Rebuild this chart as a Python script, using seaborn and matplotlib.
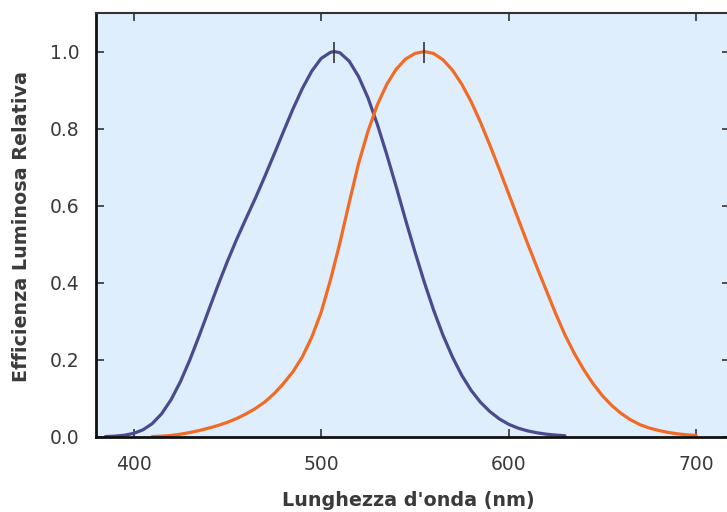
import numpy as np
import pandas as pd
import matplotlib
matplotlib.use("Agg")
import matplotlib.pyplot as plt
import seaborn as sns

# Scotopic (blue) curve
scot_wl = [385, 390, 395, 400, 405, 410, 415, 420, 425, 430, 435, 440, 445, 450, 455,
           460, 465, 470, 475, 480, 485, 490, 495, 500, 505, 507, 510, 515, 520, 525,
           530, 535, 540, 545, 550, 555, 560, 565, 570, 575, 580, 585, 590, 595, 600,
           605, 610, 615, 620, 625, 630]
scot_val = [0.0011, 0.0022, 0.0045, 0.0093, 0.0185, 0.0348, 0.0604, 0.0966, 0.1436, 0.1998,
            0.2625, 0.3281, 0.3931, 0.455, 0.513, 0.567, 0.620, 0.676, 0.734, 0.793,
            0.851, 0.904, 0.949, 0.982, 0.998, 1.0, 0.997, 0.975, 0.935, 0.880,
            0.811, 0.733, 0.650, 0.564, 0.481, 0.402, 0.329, 0.264, 0.208, 0.160,
            0.121, 0.090, 0.066, 0.047, 0.033, 0.023, 0.016, 0.011, 0.0074, 0.0050, 0.0033]

# Photopic (orange) curve
phot_wl = [410, 415, 420, 425, 430, 435, 440, 445, 450, 455, 460, 465, 470, 475, 480,
           485, 490, 495, 500, 505, 510, 515, 520, 525, 530, 535, 540, 545, 550, 555,
           560, 565, 570, 575, 580, 585, 590, 595, 600, 605, 610, 615, 620, 625, 630,
           635, 640, 645, 650, 655, 660, 665, 670, 675, 680, 685, 690, 695, 700]
phot_val = [0.0012, 0.0022, 0.004, 0.0073, 0.0116, 0.0168, 0.023, 0.0298, 0.038, 0.048,
            0.060, 0.0739, 0.091, 0.1126, 0.139, 0.1693, 0.208, 0.2586, 0.323, 0.4073,
            0.503, 0.6082, 0.710, 0.7932, 0.862, 0.9149, 0.954, 0.9803, 0.995, 1.0,
            0.995, 0.9786, 0.952, 0.9154, 0.870, 0.8163, 0.757, 0.6949, 0.631, 0.5668,
            0.503, 0.4412, 0.381, 0.321, 0.265, 0.217, 0.175, 0.1382, 0.107, 0.0816,
            0.061, 0.0446, 0.032, 0.0232, 0.017, 0.0119, 0.0082, 0.0057, 0.0041]

x_ticks = [400, 500, 600, 700]
y_ticks = [0.0, 0.2, 0.4, 0.6, 0.8, 1.0]
x_label = "Lunghezza d'onda (nm)"
y_label = "Efficienza Luminosa Relativa"

sns.set_theme(style="white")
plt.rcParams['font.family'] = ['DejaVu Sans']

fig = plt.figure(figsize=(7.27, 5.12), dpi=100)
ax = fig.add_axes([96 / 727, 75 / 512, 634 / 727, 424 / 512])
ax.set_facecolor("#dfeefd")

blue = "#4b4a8e"
orange = "#f26b24"
sns.lineplot(x=scot_wl, y=scot_val, ax=ax, color=blue, linewidth=2.3)
sns.lineplot(x=phot_wl, y=phot_val, ax=ax, color=orange, linewidth=2.3)

# peak markers
for wl, val in ((scot_wl, scot_val), (phot_wl, phot_val)):
    i = int(np.argmax(val))
    ax.vlines(wl[i], val[i] - 0.03, val[i] + 0.025, color="#333333", linewidth=1.2, zorder=5)

ax.set_xlim(380, 718)
ax.set_ylim(0, 1.1)
ax.set_xticks(x_ticks)
ax.set_yticks(y_ticks)
ax.set_xticklabels([str(v) for v in x_ticks])
ax.set_yticklabels([f"{v:.1f}" for v in y_ticks])
ax.tick_params(direction="in", length=6, width=1.2, colors="#333333",
               top=True, right=True, bottom=True, left=True, labelsize=13.5,
               labelcolor="#3a3a3a")
ax.tick_params(axis="x", pad=13)
ax.tick_params(axis="y", pad=12)

for side in ["left", "bottom"]:
    ax.spines[side].set_color("#111111")
    ax.spines[side].set_linewidth(2.0)
ax.spines["top"].set_color("#333333")
ax.spines["top"].set_linewidth(1.5)
ax.spines["right"].set_visible(False)

ax.set_xlabel(x_label, fontsize=13.8, fontweight="bold", color="#3a3a3a")
ax.set_ylabel(y_label, fontsize=13.8, fontweight="bold", color="#3a3a3a")
ax.xaxis.label.set_va("center")
ax.yaxis.label.set_va("center")
ax.xaxis.set_label_coords((408 - 96) / 634, -(500 - 437) / 424)
ax.yaxis.set_label_coords(-(96 - 22) / 634, (437 - 227) / 424)

fig.savefig("out.png", dpi=100)
